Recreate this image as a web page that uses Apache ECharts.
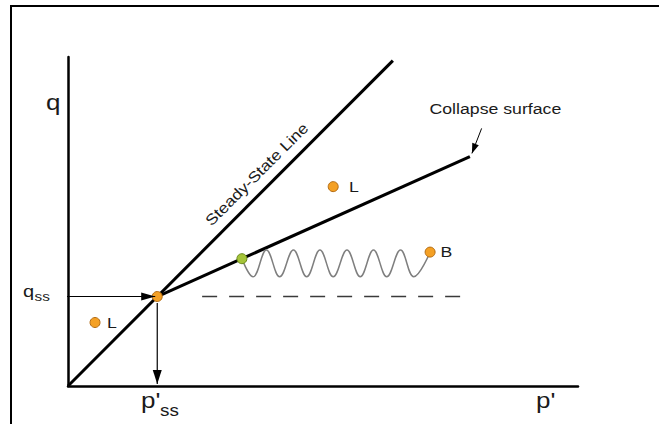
<!DOCTYPE html>
<html>
<head>
<meta charset="utf-8">
<script src="https://cdn.jsdelivr.net/npm/echarts@6/dist/echarts.min.js"></script>
<style>
html,body{margin:0;padding:0;background:#ffffff;}
#chart{width:659px;height:424px;}
</style>
</head>
<body>
<div id="chart"></div>
<script>
// ---- data (arbitrary units: p' on x 0..100, q on y 0..100) ----
const pRange = [0, 100];
const qRange = [0, 100];
const steadyStateLine = [[0, 0], [63.7, 98.9]];
const collapseSurface = [[17.5, 27.2], [78.8, 69.7]];
const steadyStatePoint = [[17.5, 27.2]];
const loosePoints = [[5.3, 19.3], [52.0, 60.6]];
const collapseStartPoint = [[34.1, 38.7]];
const brittlePoint = [[71.0, 40.7]];
const qssDashed = [[26.3, 27.2], [76.9, 27.2]];
const waveP = [34.1, 36.3, 38.9, 41.5, 44.2, 46.8, 49.4, 52.0, 54.7, 57.3, 59.9, 62.5, 65.2, 67.8, 71.0];
const waveQ = [38.7, 33.2, 41.3, 33.2, 41.3, 33.2, 41.3, 33.2, 41.3, 33.2, 41.3, 33.2, 41.3, 33.2, 40.7];
const qssArrow = [[-2.9, 27.2], [17.1, 27.2]];
const pssArrow = [[17.5, 25.2], [17.5, 0.6]];
const collapseArrow = [[81.1, 78.3], [79.2, 70.7]];

const chart = echarts.init(document.getElementById('chart'), null, {renderer: 'svg'});

const FONT = '"Liberation Sans", Arial, sans-serif';
const TXT = '#1a1a1a';
const SX = 1.18;

function txt(text, x, y, size, extra) {
  return Object.assign({
    type: 'text', x: x, y: y, scaleX: SX, z: 20,
    style: {text: text, font: size + 'px ' + FONT, fill: TXT, align: 'left', verticalAlign: 'middle'}
  }, extra || {});
}

const baseOption = {
  animation: false,
  backgroundColor: '#ffffff',
  grid: {left: 68, right: 81, top: 57, bottom: 38, outerBoundsMode: 'none'},
  xAxis: {
    type: 'value', min: pRange[0], max: pRange[1],
    axisLine: {show: true, onZero: false, lineStyle: {color: '#000', width: 2.5}},
    axisTick: {show: false}, axisLabel: {show: false}, splitLine: {show: false}
  },
  yAxis: {
    type: 'value', min: qRange[0], max: qRange[1],
    axisLine: {show: true, onZero: false, lineStyle: {color: '#000', width: 2.5}},
    axisTick: {show: false}, axisLabel: {show: false}, splitLine: {show: false}
  },
  series: [
    {type: 'line', name: 'Steady-State Line', data: steadyStateLine, symbol: 'none', z: 3,
     lineStyle: {color: '#000', width: 3}},
    {type: 'line', name: 'Collapse surface', data: collapseSurface, symbol: 'none', z: 3,
     lineStyle: {color: '#000', width: 3}},
    {type: 'line', name: 'qss level', data: qssDashed, symbol: 'none', z: 2,
     lineStyle: {color: '#3a3a3a', width: 1.5, type: [15, 12]}},
    {type: 'line', name: 'wave', data: waveP.map((p, i) => [p, waveQ[i]]), symbol: 'none', z: 4,
     smooth: 0.4, lineStyle: {color: '#7f7f7f', width: 1.5}},
    {type: 'scatter', name: 'orange', data: steadyStatePoint.concat(loosePoints, brittlePoint), z: 6,
     symbolSize: 10, itemStyle: {color: '#f4a024', borderColor: '#b36b12', borderWidth: 1, opacity: 1}},
    {type: 'scatter', name: 'green', data: collapseStartPoint, z: 6,
     symbolSize: 10, itemStyle: {color: '#a5c43a', borderColor: '#6a8a1c', borderWidth: 1, opacity: 1}}
  ],
  graphic: [
    {type: 'rect', z: 0, shape: {x: 11, y: 6, width: 700, height: 500},
     style: {fill: 'none', stroke: '#000', lineWidth: 2}},
    txt('q', 46, 102, 22),
    txt('p\'', 536, 400, 22),
    txt('p\'', 141, 400, 22),
    txt('ss', 160, 410.5, 16),
    txt('q', 23, 291, 17),
    txt('ss', 34.5, 296.5, 13),
    txt('L', 349, 187, 15),
    txt('L', 107, 322.5, 15),
    txt('B', 440.5, 251.7, 15),
    txt('Collapse surface', 429.5, 108.7, 15),
    {type: 'text', x: 256.5, y: 174, rotation: Math.PI / 4, scaleX: 1.16, z: 20,
     style: {text: 'Steady-State Line', font: '15px ' + FONT, fill: TXT, align: 'center', verticalAlign: 'middle'}}
  ]
};

chart.setOption(baseOption);

function arrowSeries(name, pts, w, h, lw) {
  const a = chart.convertToPixel({gridIndex: 0}, pts[0]);
  const b = chart.convertToPixel({gridIndex: 0}, pts[1]);
  const dx = b[0] - a[0], dy = b[1] - a[1];
  const len = Math.sqrt(dx * dx + dy * dy);
  const ux = dx / len, uy = dy / len;
  const rot = Math.atan2(-ux, -uy) * 180 / Math.PI;
  return {
    type: 'line', name: name, clip: false, z: 7, showSymbol: true, showAllSymbol: true,
    symbol: 'none', lineStyle: {color: '#000', width: lw},
    data: [
      {value: pts[0], symbol: 'none'},
      {value: pts[1], symbol: 'triangle', symbolSize: [w, h], symbolRotate: rot,
       symbolOffset: [-ux * h / 2, -uy * h / 2], itemStyle: {color: '#000', opacity: 1}}
    ]
  };
}

chart.setOption({
  series: baseOption.series.concat([
    arrowSeries('qss arrow', qssArrow, 8, 14, 1.2),
    arrowSeries('pss arrow', pssArrow, 9, 14, 1.2),
    arrowSeries('collapse arrow', collapseArrow, 7, 10, 1)
  ])
});
</script>
</body>
</html>
